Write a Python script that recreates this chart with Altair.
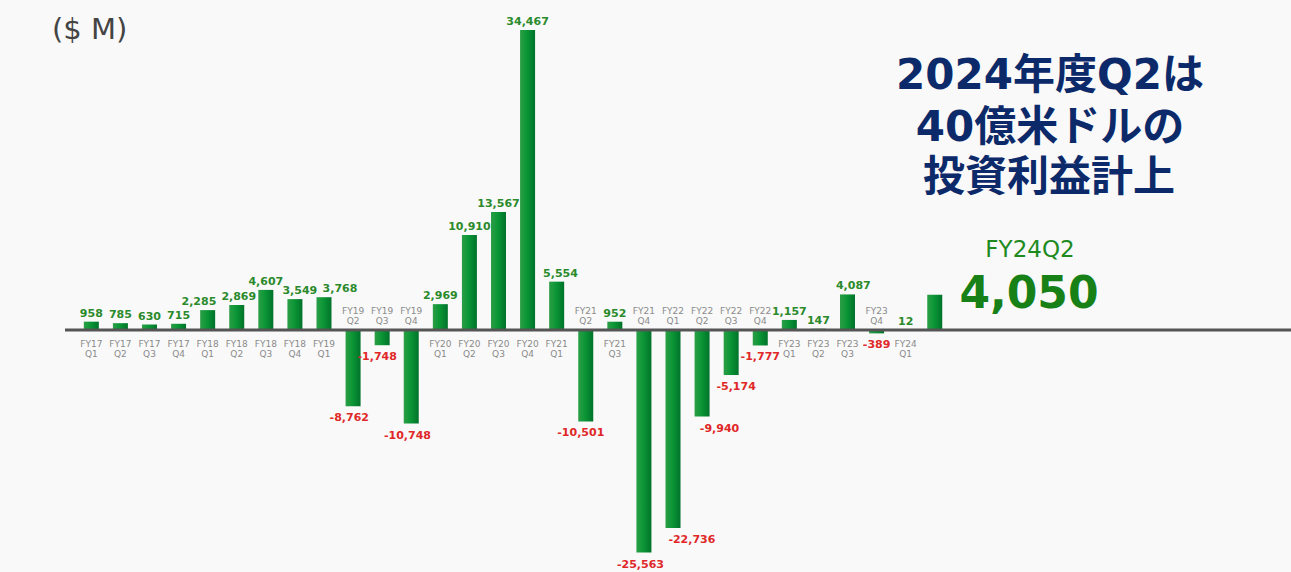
import altair as alt
import pandas as pd

fiscal_years = (["FY17"] * 4 + ["FY18"] * 4 + ["FY19"] * 4 + ["FY20"] * 4 +
                ["FY21"] * 4 + ["FY22"] * 4 + ["FY23"] * 4 + ["FY24"] * 2)
quarters = ["Q1", "Q2", "Q3", "Q4"] * 7 + ["Q1", "Q2"]
values = [958, 785, 630, 715,
          2285, 2869, 4607, 3549,
          3768, -8762, -1748, -10748,
          2969, 10910, 13567, 34467,
          5554, -10501, 952, -25563,
          -22736, -9940, -5174, -1777,
          1157, 147, 4087, -389,
          12, 4050]

df = pd.DataFrame({
    "idx": list(range(len(values))),
    "fy": fiscal_years,
    "q": quarters,
    "value": values,
})
df["cat"] = df["fy"] + "\n" + df["q"]
df["txt"] = [f"{v:,}" for v in values]
df["zero"] = 0

W, H = 1291, 572
xs = alt.Scale(domain=[-2.968, 41.077])
ys = alt.Scale(domain=[-27803, 37913])
X = alt.X("idx:Q", scale=xs, axis=None)
XL = alt.X("lx:Q", scale=xs, axis=None)
Y = alt.Y("value:Q", scale=ys, axis=None)
Y0 = alt.Y("zero:Q", scale=ys, axis=None)

# small label nudges (in bar slots) to avoid collisions, as in the original
nudges = {4: -0.3, 5: 0.07, 7: 0.17, 8: 0.55, 9: -0.13, 10: -0.17, 11: -0.13,
          16: 0.13, 17: -0.17, 19: -0.12, 20: 0.65, 21: 0.6, 22: 0.17,
          26: 0.2}
expr = "0"
for k, v in nudges.items():
    expr = f"datum.idx == {k} ? {v} : ({expr})"

grad = alt.LinearGradient(
    gradient="linear",
    stops=[alt.GradientStop(color="#2c9e46", offset=0),
           alt.GradientStop(color="#0b9636", offset=0.45),
           alt.GradientStop(color="#00732a", offset=1)],
    x1=0, x2=1, y1=0, y2=0)

base = alt.Chart(df)
lbl = base.transform_calculate(lx=f"datum.idx + ({expr})")

bars = base.mark_bar(size=15, color=grad, clip=False).encode(
    x=X, y=Y, y2=alt.Y2("zero:Q"))

baseline = alt.Chart(pd.DataFrame({"zero": [0]})).mark_rule(
    color="#555555", strokeWidth=3).encode(
    y=Y0, x=alt.value(65), x2=alt.value(W))

NUM = "DejaVu Sans"

pos_val = lbl.transform_filter("datum.idx < 29 && datum.value >= 0").mark_text(
    baseline="bottom", dy=-3, fontSize=11, fontWeight="bold",
    color="#2b8a2b", font=NUM).encode(
    x=XL, y=Y, text="txt:N")

neg_val = lbl.transform_filter("datum.value < 0").mark_text(
    baseline="top", dy=6, fontSize=11, fontWeight="bold",
    color="#e02828", font=NUM).encode(
    x=XL, y=Y, text="txt:N")

pos_cat = base.transform_filter("datum.idx < 29 && datum.value >= 0").mark_text(
    baseline="top", dy=10, fontSize=9, lineHeight=10.5, lineBreak="\n",
    color="#8a8a8a", font=NUM).encode(
    x=X, y=Y0, text="cat:N")

neg_cat = base.transform_filter("datum.value < 0").mark_text(
    baseline="top", dy=-23, fontSize=9, lineHeight=10.5, lineBreak="\n",
    color="#8a8a8a", font=NUM).encode(
    x=X, y=Y0, text="cat:N")

one = alt.Chart(pd.DataFrame({"a": [0]}))

def label(txt, x, y, size, color, weight="normal", font=NUM, align="center"):
    return one.mark_text(align=align, baseline="middle", fontSize=size,
                         color=color, fontWeight=weight, font=font).encode(
        x=alt.value(x), y=alt.value(y), text=alt.value(txt))

unit = label("($ M)", 52, 30, 29, "#444444", align="left")

jp = "'DejaVu Sans', 'Noto Sans CJK JP'"
t1 = label("2024年度Q2は", 1050, 76, 42, "#0c2a6a", "bold", jp)
t2 = label("40億米ドルの", 1050, 128, 42, "#0c2a6a", "bold", jp)
t3 = label("投資利益計上", 1049, 178, 42, "#0c2a6a", "bold", jp)
t4 = label("FY24Q2", 1030, 250, 23, "#1f8b1f")
t5 = label("4,050", 1029, 295, 44, "#178017", "bold")

chart = alt.layer(
    bars, baseline, pos_val, neg_val, pos_cat, neg_cat,
    unit, t1, t2, t3, t4, t5
).properties(
    width=W, height=H, padding=0,
    autosize=alt.AutoSizeParams(type="none"),
    background="#f9f9f9",
).configure_view(stroke=None)

chart.save("out.html", embed_options={"renderer": "svg", "actions": False})
